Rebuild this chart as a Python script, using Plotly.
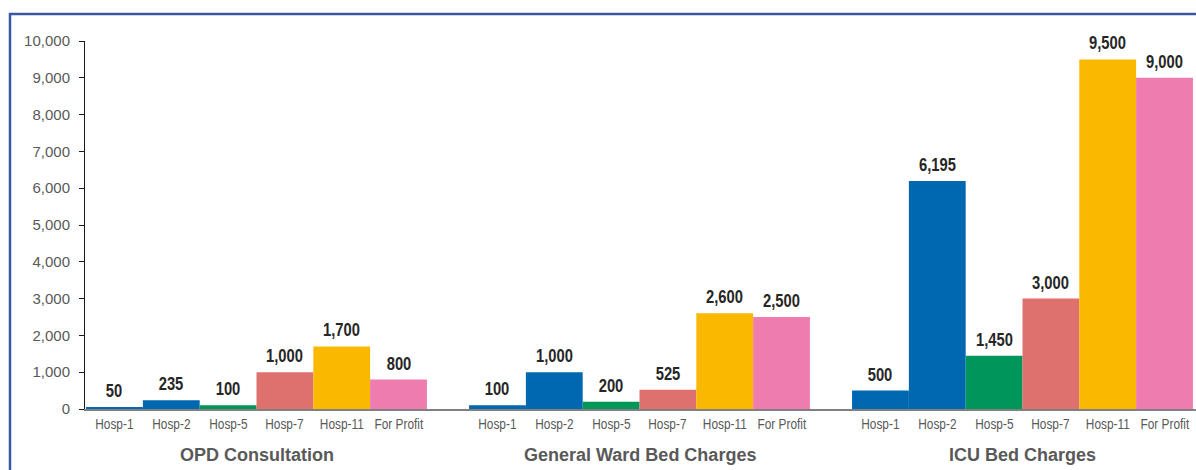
import plotly.graph_objects as go

groups = ["OPD Consultation", "General Ward Bed Charges", "ICU Bed Charges"]
hospitals = ["Hosp-1", "Hosp-2", "Hosp-5", "Hosp-7", "Hosp-11", "For Profit"]
hosp1 = [50, 100, 500]
hosp2 = [235, 1000, 6195]
hosp5 = [100, 200, 1450]
hosp7 = [1000, 525, 3000]
hosp11 = [1700, 2600, 9500]
for_profit = [800, 2500, 9000]
series = [hosp1, hosp2, hosp5, hosp7, hosp11, for_profit]
colors = ["#0067B1", "#0067B1", "#00965A", "#DE716E", "#FAB900", "#EE7CAE"]
y_ticks = [0, 1000, 2000, 3000, 4000, 5000, 6000, 7000, 8000, 9000, 10000]

BARGAP = 0.11
n = len(hospitals)
w = (1 - BARGAP) / n
gx = list(range(len(groups)))

# "Arimo" marks the texts that get a narrow (Arial Narrow-like) rendering
narrow = "Liberation Sans, Arimo, sans-serif"
regular = "Liberation Sans, Arial, sans-serif"

fig = go.Figure()
annotations = []
for k, (name, vals, col) in enumerate(zip(hospitals, series, colors)):
    fig.add_trace(go.Bar(x=gx, y=vals, name=name, marker=dict(color=col, line=dict(width=0)),
                         hoverinfo="y"))
    for i, v in enumerate(vals):
        cx = i + (k - (n - 1) / 2) * w
        annotations.append(dict(x=cx, y=v, xref="x", yref="y", text=f"{v:,}", showarrow=False,
                                yanchor="bottom", yshift=4,
                                font=dict(family=narrow, size=18, color="#262626", weight="bold")))
        annotations.append(dict(x=cx, y=0, xref="x", yref="y", text=name, showarrow=False,
                                yanchor="middle", yshift=-15,
                                font=dict(family=narrow, size=14.5, color="#595959")))

for i, g in enumerate(groups):
    annotations.append(dict(x=i, y=0, xref="x", yref="y", text=g, showarrow=False,
                            yanchor="middle", yshift=-46,
                            font=dict(family=regular, size=18, color="#595959", weight="bold")))

fig.update_layout(
    barmode="group", bargap=BARGAP, bargroupgap=0,
    width=1196, height=470,
    margin=dict(l=85, r=0, t=41, b=61),
    paper_bgcolor="white", plot_bgcolor="white",
    showlegend=False,
    annotations=annotations,
    xaxis=dict(range=[(85 - 256.5) / 383, (1196 - 256.5) / 383], showticklabels=False,
               showgrid=False, zeroline=False, showline=True, linecolor="#808080", linewidth=2,
               ticks=""),
    yaxis=dict(range=[0, 10000], tickvals=y_ticks, tickformat=",d", showgrid=False, zeroline=False,
               showline=True, linecolor="#1a1a1a", linewidth=1, ticks="outside", ticklen=5,
               tickcolor="#1a1a1a", tickfont=dict(family=regular, size=15, color="#595959"),
               ticklabelstandoff=6),
    shapes=[dict(type="path", xref="paper", yref="paper",
                 path=f"M {(10 - 85) / 1111} {-(480 - 409) / 368} L {(10 - 85) / 1111} {1 + (41 - 14) / 368} L 1.1 {1 + (41 - 14) / 368}",
                 line=dict(color="#3B57A4", width=2.5), layer="above")],
)

post = """
document.body.style.margin = '0';
var s = document.createElement('style');
s.textContent = 'text.annotation-text[style*="Arimo"]{transform-box:fill-box;transform-origin:center;transform:scaleX(0.82);}';
document.head.appendChild(s);
"""

fig.write_html("out.html", post_script=post, config={"displayModeBar": False})
